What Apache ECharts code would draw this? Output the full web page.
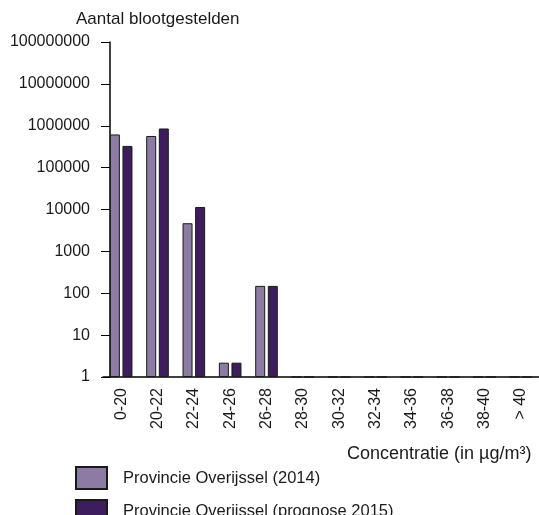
<!DOCTYPE html>
<html>
<head>
<meta charset="utf-8">
<script src="https://cdn.jsdelivr.net/npm/echarts@6/dist/echarts.min.js"></script>
<style>
  html, body { margin: 0; padding: 0; background: #fff; }
  #chart { width: 539px; height: 515px; }
</style>
</head>
<body>
<div id="chart"></div>
<script>
// categorieën (concentratie)
const categories = ['0-20', '20-22', '22-24', '24-26', '26-28', '28-30', '30-32', '32-34', '34-36', '36-38', '38-40', '> 40'];
// aantallen, 1 = geen (log-as)
const data2014 = [620000, 570000, 4700, 2.2, 150, 1, 1, 1, 1, 1, 1, 1];
const data2015 = [330000, 860000, 11500, 2.2, 150, 1, 1, 1, 1, 1, 1, 1];

const myChart = echarts.init(document.getElementById('chart'));
const font = 'Liberation Sans, Arial, sans-serif';
const txt = '#1a1a1a';
const option = {
  animation: false,
  textStyle: { fontFamily: font },
  grid: { left: 103, right: -8, top: 42, bottom: 138 },
  legend: {
    orient: 'vertical',
    left: 75,
    top: 466,
    height: 60,
    padding: 0,
    itemWidth: 31,
    itemHeight: 22,
    itemGap: 9,
    icon: 'rect',
    textStyle: { fontSize: 16.5, color: txt, fontFamily: font, padding: [0, 0, 0, 11] },
    data: ['Provincie Overijssel (2014)', 'Provincie Overijssel (prognose 2015)']
  },
  xAxis: {
    type: 'category',
    data: categories,
    name: 'Concentratie (in µg/m³)',
    nameLocation: 'middle',
    nameGap: 68,
    nameTextStyle: { fontSize: 18, color: txt, align: 'left', padding: [0, 0, 0, 26] },
    axisLine: { lineStyle: { color: '#000', width: 1.5 } },
    axisTick: { show: false },
    axisLabel: { rotate: 90, fontSize: 16, color: txt, margin: 11, interval: 0 }
  },
  yAxis: {
    type: 'log',
    logBase: 10,
    min: 1,
    max: 100000000,
    offset: -7,
    name: 'Aantal blootgestelden',
    nameLocation: 'end',
    nameGap: 14,
    nameTextStyle: { fontSize: 17, color: txt, align: 'left', padding: [0, 0, 0, -34] },
    axisLine: { show: true, lineStyle: { color: '#000', width: 1.5 } },
    axisTick: { show: true, length: 9, lineStyle: { color: '#000' } },
    splitLine: { show: false },
    axisLabel: {
      fontSize: 16,
      color: txt,
      margin: 20,
      formatter: (v) => String(Math.round(v))
    }
  },
  series: [
    {
      name: 'Provincie Overijssel (2014)',
      type: 'bar',
      barWidth: 10,
      barGap: '26%',
      itemStyle: { color: '#8c7ba3', borderColor: '#1a1a1a', borderWidth: 1 },
      data: data2014
    },
    {
      name: 'Provincie Overijssel (prognose 2015)',
      type: 'bar',
      barWidth: 10,
      itemStyle: { color: '#3e1d5e', borderColor: '#1a1a1a', borderWidth: 1 },
      data: data2015
    }
  ]
};
myChart.setOption(option);
</script>
</body>
</html>
